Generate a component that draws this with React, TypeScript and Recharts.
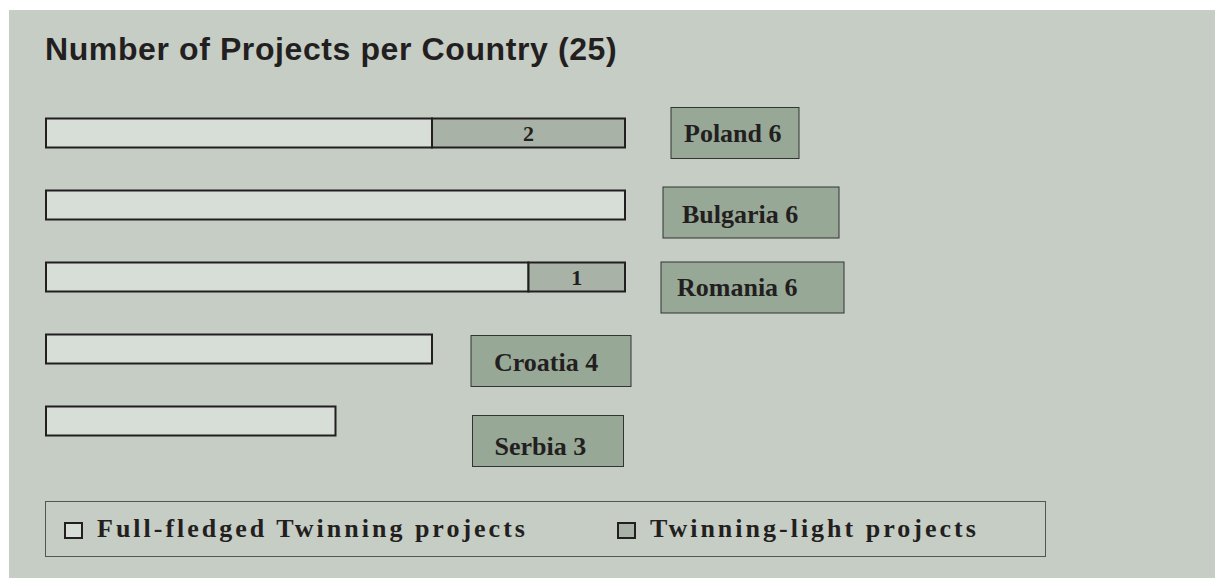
import React from 'react';
import { BarChart, Bar, XAxis, YAxis, LabelList, Legend } from 'recharts';

const title = 'Number of Projects per Country (25)';
const countries = ['Poland', 'Bulgaria', 'Romania', 'Croatia', 'Serbia'];
const fullFledged = [4, 6, 5, 4, 3];
const twinningLight = [2, 0, 1, 0, 0];
const seriesNames = ['Full-fledged Twinning projects', 'Twinning-light projects'];

// label box styling (offsets from bar end / bar centre)
const labelBoxStyle = [
  { dx: 46, dy: 0, w: 128, pad: 13, tdy: 0 },
  { dx: 38, dy: 7.5, w: 176, pad: 19, tdy: 2 },
  { dx: 36, dy: 10.5, w: 183, pad: 16, tdy: 0 },
  { dx: 39, dy: 12, w: 160, pad: 23, tdy: 1 },
  { dx: 137, dy: 20, w: 151, pad: 22, tdy: 5 },
];

const data = countries.map((name, i) => ({
  name,
  full: fullFledged[i],
  light: twinningLight[i],
  total: fullFledged[i] + twinningLight[i],
}));

const BG = '#c6cdc5';
const FULL_FILL = '#d7ddd7';
const LIGHT_FILL = '#a8b2a7';
const BOX_FILL = '#97a897';
const DARK = '#231f20';
const SERIF = '"Liberation Serif", "Times New Roman", serif';

const CountryLabel = (props: any) => {
  const { viewBox, value } = props;
  if (!viewBox || value == null) return null;
  const i = countries.indexOf(String(value));
  if (i < 0) return null;
  const s = labelBoxStyle[i];
  const d = data[i];
  // px per unit from the library's own bar width
  const pxPerUnit = viewBox.width / d.full;
  const end = viewBox.x + pxPerUnit * d.total;
  const cy = viewBox.y + viewBox.height / 2;
  const h = 51;
  const bx = end + s.dx;
  const by = cy + s.dy - h / 2;
  return (
    <g>
      <rect x={bx} y={by} width={s.w} height={h} fill={BOX_FILL} stroke="#333" strokeWidth={1} />
      <text
        x={bx + s.pad}
        y={cy + s.dy + 8.8 + s.tdy}
        fill={DARK}
        fontFamily={SERIF}
        fontWeight="bold"
        fontSize={26}
      >
        {`${d.name} ${d.total}`}
      </text>
    </g>
  );
};

const InnerLabel = (props: any) => {
  const { viewBox, value } = props;
  if (!viewBox || !value) return null;
  return (
    <text
      x={viewBox.x + viewBox.width / 2}
      y={viewBox.y + viewBox.height / 2 + 7.5}
      textAnchor="middle"
      fill={DARK}
      fontFamily={SERIF}
      fontWeight="bold"
      fontSize={22}
    >
      {value}
    </text>
  );
};

const LegendContent = () => {
  const fills = [FULL_FILL, LIGHT_FILL];
  const lefts = [18, 571];
  return (
    <div
      style={{
        position: 'relative',
        width: '100%',
        height: '100%',
        boxSizing: 'border-box',
        border: '1px solid #555',
      }}
    >
      {seriesNames.map((n, i) => (
        <div
          key={n}
          style={{
            position: 'absolute',
            left: lefts[i],
            top: 0,
            height: '100%',
            display: 'flex',
            alignItems: 'center',
          }}
        >
          <div
            style={{
              width: 19,
              height: 17,
              boxSizing: 'border-box',
              border: `2px solid ${DARK}`,
              background: fills[i],
              marginRight: 14,
              marginTop: 2,
            }}
          />
          <span
            style={{
              fontFamily: SERIF,
              fontWeight: 'bold',
              fontSize: 26,
              letterSpacing: 3,
              color: DARK,
              whiteSpace: 'nowrap',
              lineHeight: '26px',
            }}
          >
            {n}
          </span>
        </div>
      ))}
    </div>
  );
};

export default function App() {
  return (
    <div
      style={{
        position: 'absolute',
        left: 9,
        top: 10,
        width: 1206,
        height: 568,
        background: BG,
        overflow: 'hidden',
      }}
    >
      <div
        style={{
          position: 'absolute',
          left: 36,
          top: 23,
          fontFamily: '"Liberation Sans", Arial, sans-serif',
          fontWeight: 'bold',
          fontSize: 32,
          lineHeight: '32px',
          letterSpacing: 0.6,
          color: DARK,
          whiteSpace: 'nowrap',
          zIndex: 2,
        }}
      >
        {title}
      </div>
      <BarChart
        width={1206}
        height={568}
        data={data}
        layout="vertical"
        margin={{ top: 86.5, bottom: 65.5, left: 37, right: 590 }}
        barSize={29}
      >
        <XAxis type="number" domain={[0, 6]} hide />
        <YAxis type="category" dataKey="name" hide />
        <Bar
          dataKey="full"
          name={seriesNames[0]}
          stackId="a"
          fill={FULL_FILL}
          stroke={DARK}
          strokeWidth={2}
          isAnimationActive={false}
        >
          <LabelList dataKey="name" content={CountryLabel} />
        </Bar>
        <Bar
          dataKey="light"
          name={seriesNames[1]}
          stackId="a"
          fill={LIGHT_FILL}
          stroke={DARK}
          strokeWidth={2}
          isAnimationActive={false}
        >
          <LabelList dataKey="light" content={InnerLabel} />
        </Bar>
        <Legend
          content={LegendContent}
          wrapperStyle={{ position: 'absolute', left: 36, top: 491, width: 1001, height: 56 }}
        />
      </BarChart>
    </div>
  );
}
